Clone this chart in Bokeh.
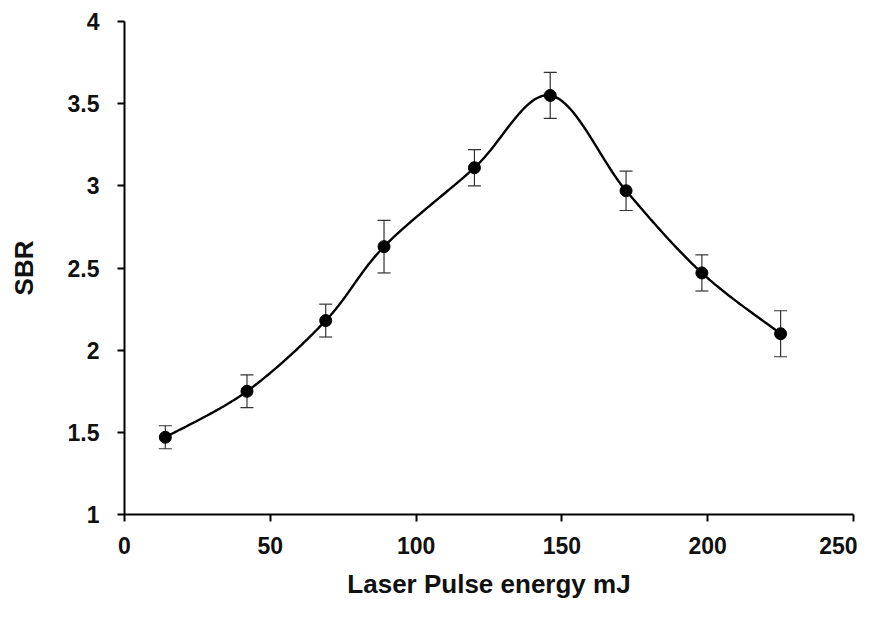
import numpy as np
from bokeh.plotting import figure
from bokeh.models import ColumnDataSource, Whisker, TeeHead, FixedTicker, Range1d
from bokeh.embed import file_html
from bokeh.resources import INLINE

# Data
energy_mj = [14, 42, 69, 89, 120, 146, 172, 198, 225]
sbr = [1.47, 1.75, 2.18, 2.63, 3.11, 3.55, 2.97, 2.47, 2.10]
sbr_err = [0.07, 0.10, 0.10, 0.16, 0.11, 0.14, 0.12, 0.11, 0.14]
x_ticks = [0, 50, 100, 150, 200, 250]
y_ticks = [1, 1.5, 2, 2.5, 3, 3.5, 4]

W, H = 857, 602
ML, MT = 124, 21
fw, fh = 729, 493
MR, MB = W - ML - fw, H - MT - fh
x0, x1, y0, y1 = 0, 250, 1, 4
sx = fw / (x1 - x0)
sy = fh / (y1 - y0)

# Excel-style smoothed line (Bezier through points, computed in screen space)
px = np.array(energy_mj, float) * sx
py = np.array(sbr, float) * sy
P = np.column_stack([px, py])
Pe = np.vstack([P[0], P, P[-1]])
curve = []
t = np.linspace(0, 1, 40)
for i in range(len(P) - 1):
    p0, p1, p2, p3 = Pe[i], Pe[i + 1], Pe[i + 2], Pe[i + 3]
    b0 = p1
    b1 = p1 + (p2 - p0) / 6.0
    b2 = p2 - (p3 - p1) / 6.0
    b3 = p2
    seg = ((1 - t) ** 3)[:, None] * b0 + (3 * (1 - t) ** 2 * t)[:, None] * b1 \
        + (3 * (1 - t) * t ** 2)[:, None] * b2 + (t ** 3)[:, None] * b3
    curve.append(seg if i == 0 else seg[1:])
curve = np.vstack(curve)
cx = curve[:, 0] / sx
cy = curve[:, 1] / sy

p = figure(width=W, height=H, output_backend="svg", toolbar_location=None,
           x_range=Range1d(x0, x1), y_range=Range1d(y0, y1),
           min_border_left=ML, min_border_right=MR, min_border_top=MT, min_border_bottom=MB)
p.outline_line_color = None
p.xgrid.visible = False
p.ygrid.visible = False

src = ColumnDataSource(dict(x=energy_mj, y=sbr,
                            lo=[a - b for a, b in zip(sbr, sbr_err)],
                            hi=[a + b for a, b in zip(sbr, sbr_err)]))

p.line(cx, cy, line_color="black", line_width=2.4)
w = Whisker(source=src, base="x", lower="lo", upper="hi", line_color="#333333", line_width=1.2,
            upper_head=TeeHead(size=13, line_color="#333333", line_width=1.2),
            lower_head=TeeHead(size=13, line_color="#333333", line_width=1.2))
p.add_layout(w)
p.scatter("x", "y", source=src, size=12, marker="circle", fill_color="black", line_color="black")

font = "Liberation Sans"
for ax in (p.xaxis[0], p.yaxis[0]):
    ax.axis_line_color = "black"
    ax.axis_line_width = 2
    ax.major_tick_line_color = "black"
    ax.major_tick_line_width = 2
    ax.major_tick_out = 7
    ax.major_tick_in = 0
    ax.minor_tick_line_color = None
    ax.major_label_text_font = font
    ax.major_label_text_font_style = "bold"
    ax.major_label_text_font_size = "23px"
    ax.major_label_text_color = "#111111"
    ax.axis_label_text_font = font
    ax.axis_label_text_font_style = "bold"
    ax.axis_label_text_font_size = "26px"
    ax.axis_label_text_color = "#111111"

p.xaxis.ticker = FixedTicker(ticks=x_ticks)
p.yaxis.ticker = FixedTicker(ticks=y_ticks)
p.yaxis.major_label_overrides = {1: "1", 1.5: "1.5", 2: "2", 2.5: "2.5", 3: "3", 3.5: "3.5", 4: "4"}
p.xaxis.axis_label = "Laser Pulse energy mJ"
p.yaxis.axis_label = "SBR"
p.xaxis.major_label_standoff = 15
p.yaxis.major_label_standoff = 18
p.xaxis.axis_label_standoff = 12
p.yaxis.axis_label_standoff = 26

open("out.html", "w").write(file_html(p, INLINE))
